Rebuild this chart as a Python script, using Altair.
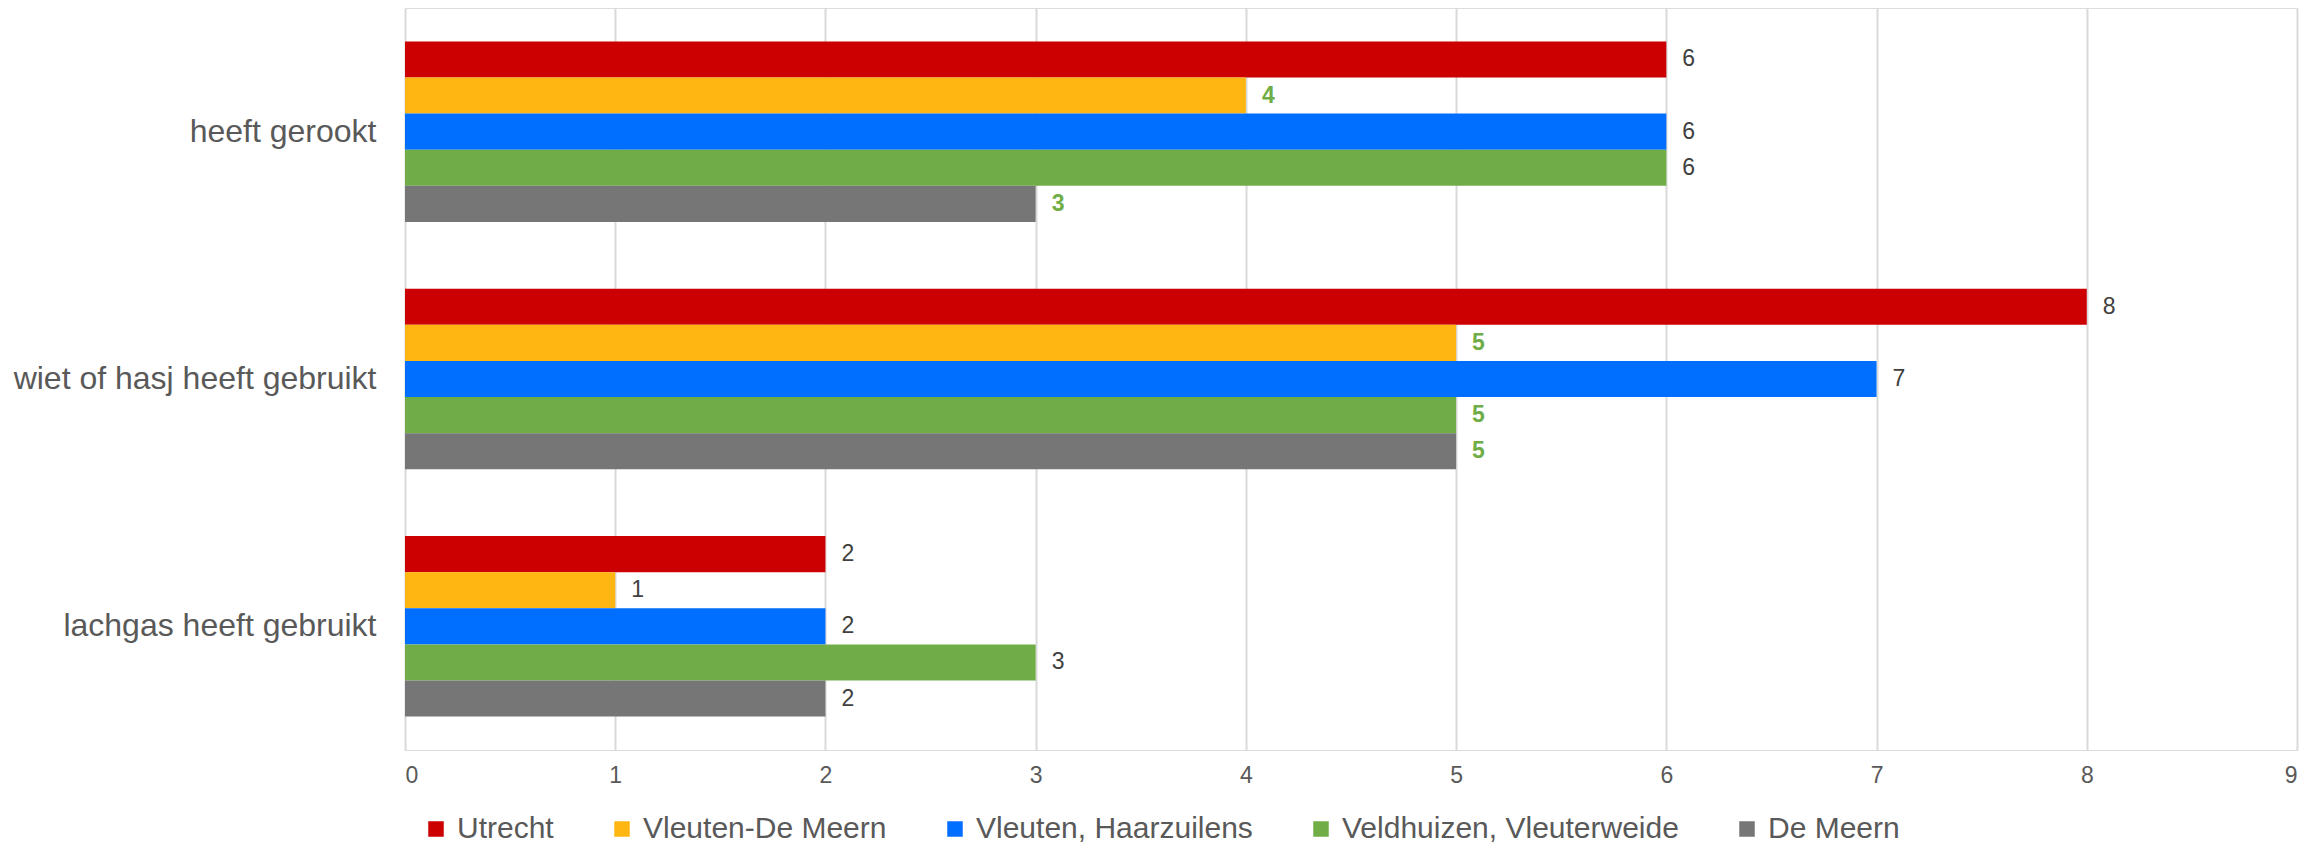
import altair as alt
import pandas as pd

categories = ["heeft gerookt", "wiet of hasj heeft gebruikt", "lachgas heeft gebruikt"]
series = ["Utrecht", "Vleuten-De Meern", "Vleuten, Haarzuilens", "Veldhuizen, Vleuterweide", "De Meern"]
colors = ["#CC0000", "#FFB612", "#006EFF", "#70AD47", "#767676"]

utrecht = [6, 8, 2]
vleuten_de_meern = [4, 5, 1]
vleuten_haarzuilens = [6, 7, 2]
veldhuizen_vleuterweide = [6, 5, 3]
de_meern = [3, 5, 2]

# labels shown bold green in the reference
highlight_utrecht = [False, False, False]
highlight_vdm = [True, True, False]
highlight_vh = [False, False, False]
highlight_vv = [False, True, False]
highlight_dm = [True, True, False]

values = [utrecht, vleuten_de_meern, vleuten_haarzuilens, veldhuizen_vleuterweide, de_meern]
highlights = [highlight_utrecht, highlight_vdm, highlight_vh, highlight_vv, highlight_dm]

rows = []
for s, vals, hl in zip(series, values, highlights):
    for c, v, h in zip(categories, vals, hl):
        rows.append({"categorie": c, "reeks": s, "waarde": v, "sig": h})
df = pd.DataFrame(rows)

FONT = "Liberation Sans"

y_enc = alt.Y("categorie:N", sort=categories, title=None,
              scale=alt.Scale(paddingInner=0.27, paddingOuter=0.135),
              axis=alt.Axis(ticks=False, domain=False, labelFontSize=32, labelColor="#595959",
                            labelPadding=29, labelFont=FONT, labelLimit=600))
yoff_enc = alt.YOffset("reeks:N", sort=series, scale=alt.Scale(paddingInner=0, paddingOuter=0))
x_enc = alt.X("waarde:Q", title=None,
              scale=alt.Scale(domain=[0, 9], nice=False),
              axis=alt.Axis(values=list(range(10)), format="d", grid=True, gridColor="#D9D9D9", gridWidth=2,
                            domain=False, ticks=False, labelFontSize=23, labelColor="#595959",
                            labelPadding=14, labelFont=FONT))

bars = alt.Chart(df).mark_bar().encode(
    y=y_enc,
    yOffset=yoff_enc,
    x=x_enc,
    color=alt.Color("reeks:N", sort=series,
                    scale=alt.Scale(domain=series, range=colors),
                    legend=alt.Legend(title=None, orient="none", direction="horizontal", columns=5,
                                      legendX=16, legendY=806, symbolType="square", symbolSize=240,
                                      symbolStrokeWidth=0, labelFontSize=30, labelColor="#595959",
                                      labelFont=FONT, labelOffset=6, columnPadding=53, labelLimit=600)),
)

labels_normal = alt.Chart(df).transform_filter("!datum.sig").mark_text(
    align="left", baseline="middle", dx=16, fontSize=23, font=FONT, color="#404040"
).encode(y=alt.Y("categorie:N", sort=categories), yOffset=alt.YOffset("reeks:N", sort=series),
         x="waarde:Q", text="waarde:Q")

labels_bold = alt.Chart(df).transform_filter("datum.sig").mark_text(
    align="left", baseline="middle", dx=16, fontSize=23, font=FONT, fontWeight="bold", color="#70AD47"
).encode(y=alt.Y("categorie:N", sort=categories), yOffset=alt.YOffset("reeks:N", sort=series),
         x="waarde:Q", text="waarde:Q")

chart = alt.layer(bars, labels_normal, labels_bold).properties(
    width=1892, height=742,
    padding={"left": 5, "top": 0, "right": 5, "bottom": 0},
).configure_view(stroke=None).configure(background="white")

chart.save("out.html", embed_options={"renderer": "svg", "actions": False})
